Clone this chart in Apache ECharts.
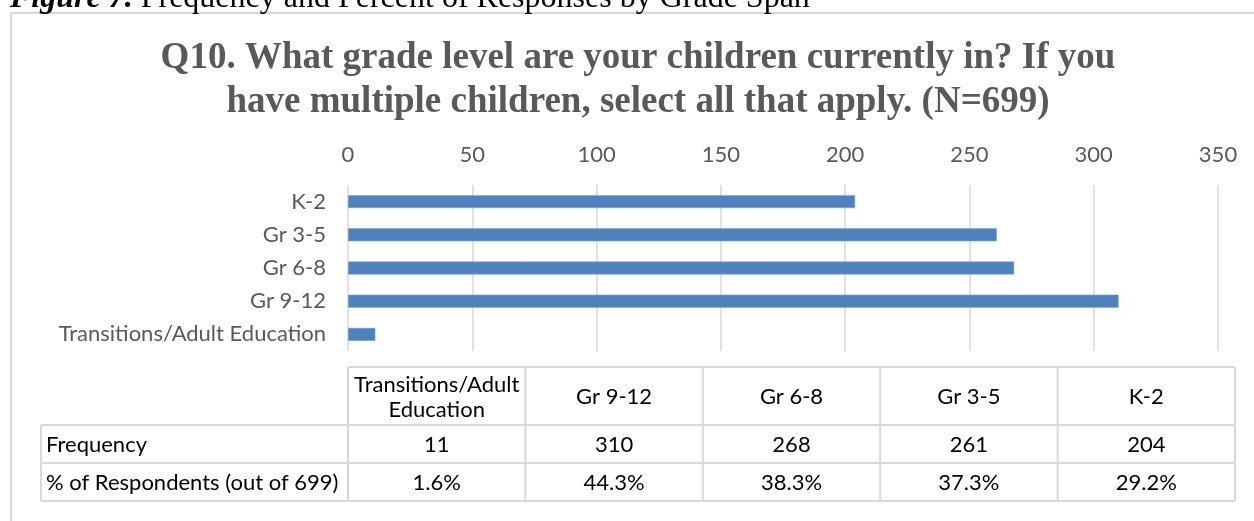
<!DOCTYPE html>
<html>
<head>
<meta charset="utf-8">
<script src="https://cdn.jsdelivr.net/npm/echarts@6/dist/echarts.min.js"></script>
<style>
  html, body { margin: 0; padding: 0; background: #ffffff; }
  #chart { width: 1254px; height: 521px; }
</style>
</head>
<body>
<div id="chart"></div>
<script>
// Survey question Q10: grade spans of respondents' children (N=699)
const categories = ['K-2', 'Gr 3-5', 'Gr 6-8', 'Gr 9-12', 'Transitions/Adult Education'];
const frequency = [204, 261, 268, 310, 11];
const percentOfRespondents = ['29.2%', '37.3%', '38.3%', '44.3%', '1.6%'];
const tableHeaders = ['Transitions/Adult\nEducation', 'Gr 9-12', 'Gr 6-8', 'Gr 3-5', 'K-2'];
const rowLabels = ['Frequency', '% of Respondents (out of 699)'];
const xTicks = { min: 0, max: 350, interval: 50 };

const captionText = 'Figure 7.';
const captionRest = ' Frequency and Percent of Responses by Grade Span';
const titleText = 'Q10. What grade level are your children currently in? If you\nhave multiple children, select all that apply. (N=699)';

const W = 1254, H = 521;
const plot = { left: 348, right: 1218, top: 185, bottom: 351 };
const SANS = 'Lato, "Noto Sans", sans-serif';
const LABEL_SIZE = 22;
const GRID_GREY = '#d9d9d9';
const TEXT_GREY = '#595959';

const chart = echarts.init(document.getElementById('chart'), null, { renderer: 'canvas' });

// Data table under the plot: columns run in reverse category order
function buildTable() {
  const els = [];
  const tLeft = 41, tRight = 1235;
  const colLeft = plot.left;
  const colW = (tRight - colLeft) / tableHeaders.length;
  const rowsY = [367, 425, 463, 501];
  const line = (x1, y1, x2, y2) => ({
    type: 'line', silent: true,
    shape: { x1, y1, x2, y2 },
    style: { stroke: GRID_GREY, lineWidth: 2 }
  });
  // horizontal rules
  els.push(line(colLeft, rowsY[0], tRight, rowsY[0]));
  els.push(line(tLeft, rowsY[1], tRight, rowsY[1]));
  els.push(line(tLeft, rowsY[2], tRight, rowsY[2]));
  els.push(line(tLeft, rowsY[3], tRight, rowsY[3]));
  // vertical rules
  els.push(line(tLeft, rowsY[1], tLeft, rowsY[3]));
  for (let i = 0; i <= tableHeaders.length; i++) {
    const x = colLeft + i * colW;
    els.push(line(x, rowsY[0], x, rowsY[3]));
  }
  const txt = (x, y, text, align) => ({
    type: 'text', silent: true, x, y,
    style: {
      text, fill: '#000000', font: LABEL_SIZE + 'px ' + SANS,
      align: align, verticalAlign: 'middle', lineHeight: 25
    }
  });
  const freqRev = frequency.slice().reverse();
  const pctRev = percentOfRespondents.slice().reverse();
  tableHeaders.forEach((h, i) => {
    const cx = colLeft + (i + 0.5) * colW;
    els.push(txt(cx, (rowsY[0] + rowsY[1]) / 2 + 1, h, 'center'));
    els.push(txt(cx, (rowsY[1] + rowsY[2]) / 2 + 1, String(freqRev[i]), 'center'));
    els.push(txt(cx, (rowsY[2] + rowsY[3]) / 2 + 1, pctRev[i], 'center'));
  });
  els.push(txt(46, (rowsY[1] + rowsY[2]) / 2 + 1, rowLabels[0], 'left'));
  els.push(txt(46, (rowsY[2] + rowsY[3]) / 2 + 1, rowLabels[1], 'left'));
  return els;
}

const option = {
  backgroundColor: '#ffffff',
  animation: false,
  title: {
    text: titleText,
    left: 638,
    textAlign: 'center',
    top: 36,
    padding: 0,
    textStyle: {
      fontFamily: '"Liberation Serif", "DejaVu Serif", serif',
      fontWeight: 'bold',
      fontSize: 37,
      lineHeight: 44,
      color: TEXT_GREY
    }
  },
  grid: {
    left: plot.left,
    right: W - plot.right,
    top: plot.top,
    bottom: H - plot.bottom,
    containLabel: false
  },
  xAxis: {
    type: 'value',
    position: 'top',
    min: xTicks.min,
    max: xTicks.max,
    interval: xTicks.interval,
    axisLine: { show: false },
    axisTick: { show: false },
    axisLabel: { color: TEXT_GREY, fontSize: LABEL_SIZE, fontFamily: SANS, margin: 19 },
    splitLine: { show: true, lineStyle: { color: GRID_GREY, width: 1.5 } }
  },
  yAxis: {
    type: 'category',
    data: categories,
    inverse: true,
    axisLine: { show: false },
    axisTick: { show: false },
    axisLabel: { color: TEXT_GREY, fontSize: LABEL_SIZE, fontFamily: SANS, margin: 22 }
  },
  series: [{
    type: 'bar',
    data: frequency,
    barWidth: 13,
    itemStyle: { color: '#4f81bd', borderColor: '#7ea3d3', borderWidth: 0.6 }
  }],
  graphic: [
    {
      type: 'rect', silent: true,
      shape: { x: 11, y: 13, width: 1270, height: 530 },
      style: { fill: 'none', stroke: GRID_GREY, lineWidth: 2 }
    },
    {
      type: 'text', silent: true, x: 10, y: -17,
      style: {
        text: '{b|' + captionText + '}{r|' + captionRest + '}',
        rich: {
          b: { font: 'italic bold 32px "Liberation Serif", serif', fill: '#000000' },
          r: { font: '32px "Liberation Serif", serif', fill: '#000000' }
        }
      }
    }
  ].concat(buildTable())
};

chart.setOption(option);
</script>
</body>
</html>
